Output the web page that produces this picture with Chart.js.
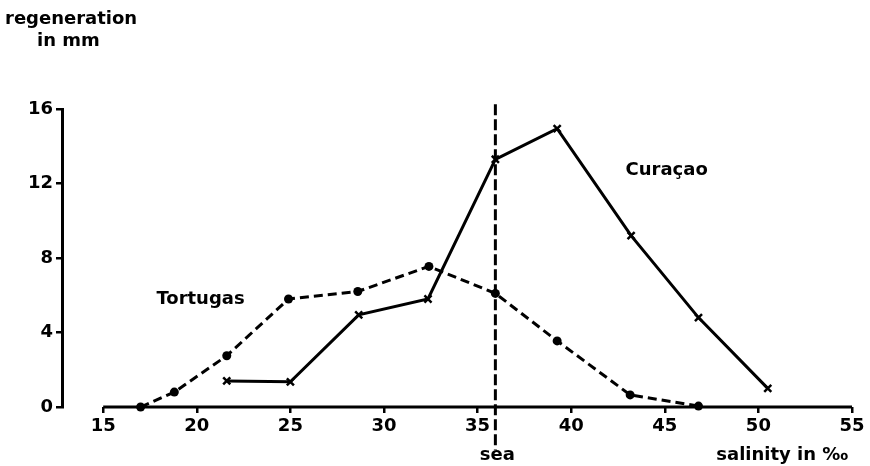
<!DOCTYPE html>
<html><head><meta charset="utf-8">
<script src="https://cdn.jsdelivr.net/npm/chart.js@4/dist/chart.umd.min.js"></script>
<style>html,body{margin:0;padding:0;background:#fff}#wrap{width:870px;height:466px}</style>
</head><body><div id="wrap"><canvas id="c" width="870" height="466"></canvas></div>
<script>
// ---- data ----
const salinityTicks = [15, 20, 25, 30, 35, 40, 45, 50, 55];
const tortugasSalinity = [17, 18.8, 21.6, 24.9, 28.6, 32.4, 35.95, 39.25, 43.15, 46.8];
const tortugasRegen    = [0, 0.8, 2.75, 5.8, 6.2, 7.55, 6.1, 3.55, 0.65, 0.05];
const curacaoSalinity  = [21.6, 25, 28.65, 32.35, 35.95, 39.25, 43.2, 46.8, 50.5];
const curacaoRegen     = [1.4, 1.35, 4.95, 5.8, 13.3, 14.95, 9.2, 4.8, 1.0];
const seaSalinity = 35.95;
const seriesNames = ['Tortugas', 'Curaçao'];

const FONT = '"DejaVu Sans", sans-serif';
const TXT = 'bold 18px ' + FONT;
const toPts = (xs, ys) => xs.map((x, i) => ({x: x, y: ys[i]}));

const decor = {
  id: 'decor',
  beforeDatasetsDraw(chart) {
    const {ctx, scales: {x, y}} = chart;
    ctx.save();
    ctx.strokeStyle = '#000';
    ctx.lineWidth = 3;
    // x axis line from 15 to 55
    ctx.beginPath();
    ctx.moveTo(x.getPixelForValue(salinityTicks[0]), y.getPixelForValue(0));
    ctx.lineTo(x.getPixelForValue(salinityTicks[salinityTicks.length - 1]), y.getPixelForValue(0));
    ctx.stroke();
    // sea line
    ctx.setLineDash([11, 4]);
    ctx.beginPath();
    const sx = x.getPixelForValue(seaSalinity);
    ctx.moveTo(sx, y.getPixelForValue(16.25));
    ctx.lineTo(sx, y.getPixelForValue(-2.3));
    ctx.stroke();
    ctx.restore();
  },
  afterDraw(chart) {
    const {ctx, scales: {x, y}} = chart;
    ctx.save();
    ctx.fillStyle = '#000';
    ctx.font = TXT;
    ctx.textBaseline = 'middle';
    ctx.textAlign = 'left';
    ctx.fillText('regeneration', 5, 19);
    ctx.fillText('in mm', 37, 41);
    ctx.textAlign = 'center';
    ctx.fillText(seriesNames[0], x.getPixelForValue(20.2), y.getPixelForValue(5.8));
    ctx.fillText(seriesNames[1], x.getPixelForValue(45.1), y.getPixelForValue(12.7));
    ctx.fillText('sea', x.getPixelForValue(seaSalinity) + 2, y.getPixelForValue(-2.6));
    ctx.textAlign = 'right';
    ctx.fillText('salinity in ‰', x.getPixelForValue(54.8), y.getPixelForValue(-2.6));
    ctx.restore();
  }
};

new Chart(document.getElementById('c'), {
  type: 'scatter',
  data: {
    datasets: [
      {
        label: seriesNames[0],
        data: toPts(tortugasSalinity, tortugasRegen),
        showLine: true,
        borderColor: '#000',
        backgroundColor: '#000',
        borderWidth: 3,
        borderDash: [9, 5],
        pointStyle: 'circle',
        pointRadius: 4.5,
        pointBorderWidth: 0,
        clip: false
      },
      {
        label: seriesNames[1],
        data: toPts(curacaoSalinity, curacaoRegen),
        showLine: true,
        borderColor: '#000',
        backgroundColor: '#000',
        borderWidth: 3,
        pointStyle: 'crossRot',
        pointRadius: 5,
        pointBorderWidth: 2.5,
        clip: false
      }
    ]
  },
  options: {
    responsive: false,
    devicePixelRatio: 1,
    animation: false,
    layout: {padding: {top: 109, right: 18, left: 0, bottom: 0}},
    plugins: {legend: {display: false}, tooltip: {enabled: false}},
    scales: {
      x: {
        type: 'linear',
        min: 12.8, max: 55,
        afterBuildTicks(scale) { scale.ticks = salinityTicks.map(v => ({value: v})); },
        afterFit(scale) { scale.height = 59; },
        grid: {display: true, drawOnChartArea: false, drawTicks: true, tickLength: 6, color: '#000', lineWidth: 2.5},
        border: {display: false},
        ticks: {autoSkip: false, maxRotation: 0, padding: 3, color: '#000', font: {family: FONT, size: 18, weight: 'bold'}}
      },
      y: {
        type: 'linear',
        min: 0, max: 16,
        afterFit(scale) { scale.width = 62; },
        grid: {display: true, drawOnChartArea: false, drawTicks: true, tickLength: 6, color: '#000', lineWidth: 2.5},
        border: {display: true, color: '#000', width: 3},
        ticks: {stepSize: 4, padding: 3, color: '#000', font: {family: FONT, size: 18, weight: 'bold'}}
      }
    }
  },
  plugins: [decor]
});
</script>
</body></html>
